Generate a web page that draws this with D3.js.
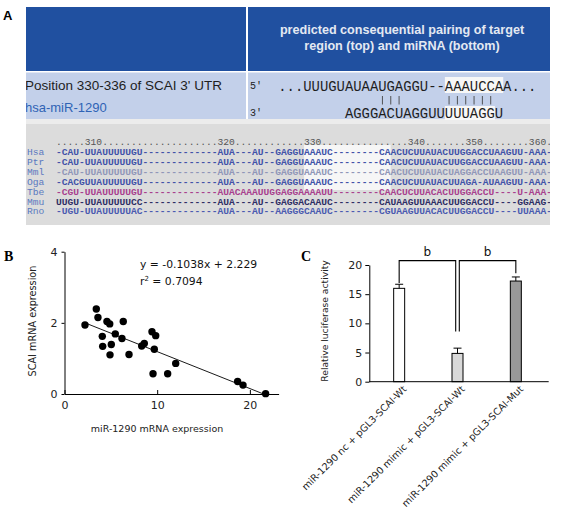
<!DOCTYPE html>
<html><head><meta charset="utf-8">
<script src="https://cdn.jsdelivr.net/npm/d3@7/dist/d3.min.js"></script>
<style>html,body{margin:0;padding:0;background:#fff}svg{display:block}</style>
</head><body>
<script>
// ---------- DATA ----------
// Panel A: pairing
const pairTitle = ["predicted consequential pairing of target", "region (top) and miRNA (bottom)"];
const pairLeftLabels = ["Position 330-336 of SCAI 3' UTR", "hsa-miR-1290"];
const pairTop = "...UUUGUAUAAUGAGGU--AAAUCCAA...";
const pairBottom = "AGGGACUAGGUUUUUAGGU";
const pairBottomStartCol = 8;
const pairPipeCols = [12,13,14,20,21,22,23,24,25];
const topSeedCols = [20, 26];      // highlighted columns (inclusive)
const bottomSeedCols = [20, 25];
// Panel A: alignment
const alignRuler = ".....310....................320............330...............340.......350........360.";
const alignSpecies = ["Hsa","Ptr","Mml","Oga","Tbe","Mmu","Rno"];
const alignSeqs = [
  "-CAU-UUAUUUUUGU-------------AUA---AU--GAGGUAAAUC--------CAACUCUUAUACUUGGACCUAAGUU-AAA-",
  "-CAU-UUAUUUUUGU-------------AUA---AU--GAGGUAAAUC--------CAACUCUUAUACUUGGACCUAAGUU-AAA-",
  "-CAU-UUAUUUUUGU-------------AUA---AU--GAGGUAAAUC--------CAACUCUUAUACUAGGACCUAAGUU-AAA-",
  "-CACGUUAUUUUUGU-------------AUA---AU--GAGGUAAAUC--------CAACUCUUAUACUUAGA-AUAAGUU-AAA-",
  "-CGU-UUAUUUUUGU-------------AUACAAAUUGGAGGAAAAUU--------CAACUCUUACACUUGGACCU----U-AAA-",
  "UUGU-UUAUUUUUCC-------------AUA---AU--GAGGACAAUC--------CAUAAGUUAAACUUGGACCU----GGAAG-",
  "-UGU-UUAUUUUUAC-------------AUA---AU--AAGGGCAAUC--------CGUAAGUUACACUUGGACCU----UUAAA-"
];
const siteCols = [43, 57];
// Panel B: scatter
const miR1290 = [2.21,3.43,3.61,4.08,4.12,4.58,4.88,4.91,5.05,5.48,6.34,6.20,6.96,8.33,8.61,9.44,9.84,9.69,9.55,11.13,12.0,18.68,19.26,21.7];
const scaiExpr = [1.94,2.39,2.15,1.62,1.34,2.04,1.97,1.10,1.39,1.69,2.04,1.56,1.11,1.35,1.42,1.75,1.64,1.26,0.57,0.57,0.86,0.35,0.25,0.01];
const fitSlope = -0.1038, fitIntercept = 2.229;
const fitXRange = [2.2, 21.5];
const scatterXTicks = [0,10,20];
const scatterYTicks = [0,2,4];
const eqText = "y = -0.1038x + 2.229";
const r2Value = "0.7094";
// Panel C: bars
const barCategories = ["miR-1290 nc + pGL3-SCAI-Wt","miR-1290 mimic + pGL3-SCAI-Wt","miR-1290 mimic + pGL3-SCAI-Mut"];
const barValues = [16.0, 4.85, 17.25];
const barErrors = [0.7, 0.9, 0.7];
const barYTicks = [0,5,10,15,20];
const sigLabel = "b";
const bracketTop = 20.75;
const bracketEnds = [[16.9, 8.6],[8.6, 18.6]]; // [left end, right end] values
const bracketPairs = [[0,1],[1,2]];

// ---------- STYLE ----------
const W = 562, H = 509;
const svg = d3.select("body").append("svg").attr("width", W).attr("height", H);
const sans = "'Liberation Sans', Arial, sans-serif";
const mono = "'Liberation Mono', 'Courier New', monospace";
const verd = "'DejaVu Sans', Verdana, sans-serif";
const serif = "'Liberation Serif', 'Times New Roman', serif";
const seqColors = ["#4152a8","#4152a8","#9096b8","#4152a8","#a8408e","#2e2e64","#4a5ab0"];
const barFills = ["#ffffff","#d9d9d9","#999999"];

// ---------- PANEL A ----------
svg.append("text").attr("x",3).attr("y",20).text("A")
  .attr("font-family",sans).attr("font-weight","bold").attr("font-size",13);
const defs = svg.append("defs");
defs.append("clipPath").attr("id","clipA").append("rect").attr("x",26).attr("y",0).attr("width",524).attr("height",230);
const gA = svg.append("g").attr("clip-path","url(#clipA)");
gA.append("rect").attr("x",26).attr("y",7).attr("width",524).attr("height",64).attr("fill","#2050a0");
gA.append("rect").attr("x",26).attr("y",72.5).attr("width",524).attr("height",46.5).attr("fill","#c3d0ea");
gA.append("rect").attr("x",26).attr("y",119).attr("width",524).attr("height",5).attr("fill","#ececec");
gA.append("rect").attr("x",26).attr("y",124).attr("width",524).attr("height",101).attr("fill","#dcdcdc");
gA.append("rect").attr("x",246).attr("y",7).attr("width",2).attr("height",112).attr("fill","#ffffff");
gA.selectAll("text.title").data(pairTitle).join("text").attr("class","title")
  .attr("x",402).attr("y",(d,i)=>34+i*16).attr("text-anchor","middle")
  .attr("font-family",sans).attr("font-weight","bold").attr("font-size",12.6).attr("fill","#e4e9f2").text(d=>d);
gA.append("text").attr("x",25).attr("y",90).text(pairLeftLabels[0])
  .attr("font-family",sans).attr("font-size",13.5).attr("fill","#1e1e1e");
gA.append("text").attr("x",25).attr("y",112).text(pairLeftLabels[1])
  .attr("font-family",sans).attr("font-size",13).attr("fill","#2f63b5");

const cw = 8.33, sx0 = 278.3, monoSize = cw/0.6;
const colX = c => sx0 + c*cw;
gA.append("rect").attr("x",colX(topSeedCols[0])).attr("y",77).attr("width",(topSeedCols[1]-topSeedCols[0]+1)*cw).attr("height",16).attr("fill","#f7f7f7");
gA.append("rect").attr("x",colX(bottomSeedCols[0])).attr("y",106).attr("width",(bottomSeedCols[1]-bottomSeedCols[0]+1)*cw).attr("height",14).attr("fill","#f7f7f7");
gA.append("text").attr("x",250).attr("y",89).text("5'").attr("font-family",mono).attr("font-size",10).attr("fill","#222");
gA.append("text").attr("x",250).attr("y",116).text("3'").attr("font-family",mono).attr("font-size",10).attr("fill","#222");
gA.append("text").attr("x",colX(0)).attr("y",91).text(pairTop).attr("font-family",mono).attr("font-size",monoSize).attr("fill","#1e1e1e");
gA.append("text").attr("x",colX(pairBottomStartCol)).attr("y",118).text(pairBottom).attr("font-family",mono).attr("font-size",monoSize).attr("fill","#1e1e1e");
gA.selectAll("line.pipe").data(pairPipeCols).join("line").attr("class","pipe")
  .attr("x1",c=>colX(c)+cw/2).attr("x2",c=>colX(c)+cw/2).attr("y1",96).attr("y2",104.5)
  .attr("stroke","#444").attr("stroke-width",0.9);

// alignment
const acw = 5.77, ax0 = 56, aSize = acw/0.6;
const rowY = i => 155 + i*9.9;
gA.append("rect").attr("x",ax0+siteCols[0]*acw).attr("y",145).attr("width",(siteCols[1]-siteCols[0]+1)*acw).attr("height",45).attr("fill","#f6f6f6");
gA.append("text").attr("x",ax0).attr("y",145).text(alignRuler).attr("font-family",mono).attr("font-size",aSize).attr("fill","#555");
gA.selectAll("text.sp").data(alignSpecies).join("text").attr("class","sp")
  .attr("x",27).attr("y",(d,i)=>rowY(i)).text(d=>d).attr("font-family",mono).attr("font-size",aSize).attr("fill","#5a78c0");
gA.selectAll("text.seq").data(alignSeqs).join("text").attr("class","seq")
  .attr("x",ax0).attr("y",(d,i)=>rowY(i)).text(d=>d).attr("font-family",mono).attr("font-size",aSize)
  .attr("font-weight","bold").attr("fill",(d,i)=>seqColors[i]);

// ---------- PANEL B ----------
svg.append("text").attr("x",4).attr("y",261).text("B").attr("font-family",serif).attr("font-weight","bold").attr("font-size",14);
const xB = d3.scaleLinear().domain([0,23.1]).range([64.5,278.6]);
const yB = d3.scaleLinear().domain([0,4]).range([394,251.7]);
const gB = svg.append("g");
const axBx = gB.append("g").attr("transform","translate(0,394)")
  .call(d3.axisBottom(xB).tickValues(scatterXTicks).tickFormat(d3.format("d")).tickSize(-4).tickSizeOuter(0).tickPadding(7));
const axBy = gB.append("g").attr("transform","translate(64.5,0)")
  .call(d3.axisLeft(yB).tickValues(scatterYTicks).tickFormat(d3.format("d")).tickSize(3).tickSizeOuter(0).tickPadding(4));
[axBx,axBy].forEach(a=>{a.selectAll("text").attr("font-family",verd).attr("font-size",11).attr("fill","#222");
  a.selectAll("line,path").attr("stroke","#000");});
gB.append("line").attr("x1",xB(fitXRange[0])).attr("y1",yB(fitSlope*fitXRange[0]+fitIntercept))
  .attr("x2",xB(fitXRange[1])).attr("y2",yB(fitSlope*fitXRange[1]+fitIntercept)).attr("stroke","#000").attr("stroke-width",0.9);
gB.selectAll("circle").data(miR1290).join("circle")
  .attr("cx",d=>xB(d)).attr("cy",(d,i)=>yB(scaiExpr[i])).attr("r",3.7).attr("fill","#000");
gB.append("text").attr("x",140).attr("y",268).text(eqText).attr("font-family",verd).attr("font-size",10.8).attr("fill","#111");
const r2 = gB.append("text").attr("x",140).attr("y",285).attr("font-family",verd).attr("font-size",10.8).attr("fill","#111");
r2.append("tspan").text("r");
r2.append("tspan").attr("dy",-4).attr("font-size",7).text("2");
r2.append("tspan").attr("dy",4).text(" = " + r2Value);
gB.append("text").attr("transform","translate(36,321) rotate(-90)").attr("text-anchor","middle")
  .text("SCAI mRNA expression").attr("font-family",verd).attr("font-size",9.7).attr("fill","#222");
gB.append("text").attr("x",157).attr("y",432).attr("text-anchor","middle")
  .text("miR-1290 mRNA expression").attr("font-family",verd).attr("font-size",9.5).attr("fill","#222");

// ---------- PANEL C ----------
svg.append("text").attr("x",301).attr("y",261).text("C").attr("font-family",serif).attr("font-weight","bold").attr("font-size",14);
const xC = d3.scaleBand().domain(barCategories).range([370,545]);
const yC = d3.scaleLinear().domain([0,20]).range([381.7,265]);
const gC = svg.append("g");
const bw = 11;
const cx = d => xC(d) + xC.bandwidth()/2;
gC.selectAll("rect.bar").data(barCategories).join("rect").attr("class","bar")
  .attr("x",d=>cx(d)-bw/2).attr("y",(d,i)=>yC(barValues[i])).attr("width",bw)
  .attr("height",(d,i)=>yC(0)-yC(barValues[i])).attr("fill",(d,i)=>barFills[i]).attr("stroke","#000").attr("stroke-width",1);
gC.selectAll("line.err").data(barCategories).join("line").attr("class","err")
  .attr("x1",d=>cx(d)).attr("x2",d=>cx(d)).attr("y1",(d,i)=>yC(barValues[i]))
  .attr("y2",(d,i)=>yC(barValues[i]+barErrors[i])).attr("stroke","#000");
gC.selectAll("line.cap").data(barCategories).join("line").attr("class","cap")
  .attr("x1",d=>cx(d)-4).attr("x2",d=>cx(d)+4).attr("y1",(d,i)=>yC(barValues[i]+barErrors[i]))
  .attr("y2",(d,i)=>yC(barValues[i]+barErrors[i])).attr("stroke","#000");
const axCy = gC.append("g").attr("transform","translate(369.3,0)")
  .call(d3.axisLeft(yC).tickValues(barYTicks).tickSize(4).tickSizeOuter(0).tickPadding(3));
axCy.selectAll("text").attr("font-family",verd).attr("font-size",11).attr("fill","#222");
axCy.selectAll("line,path").attr("stroke","#000");
gC.append("line").attr("x1",369.3).attr("x2",548.7).attr("y1",yC(0)).attr("y2",yC(0)).attr("stroke","#000");
gC.selectAll("text.cat").data(barCategories).join("text").attr("class","cat")
  .attr("transform",d=>`translate(${cx(d)+8},${yC(0)+8}) rotate(-45)`).attr("text-anchor","end")
  .text(d=>d).attr("font-family",verd).attr("font-size",9.7).attr("fill","#222");
// brackets
bracketPairs.forEach((p,k)=>{
  const off = 1.8;
  const x1 = cx(barCategories[p[0]]) + (p[0]===1 ? off : 0);
  const x2 = cx(barCategories[p[1]]) - (p[1]===1 ? off : 0);
  const yt = yC(bracketTop);
  gC.append("path").attr("d",`M${x1},${yC(bracketEnds[k][0])}V${yt}H${x2}V${yC(bracketEnds[k][1])}`)
    .attr("fill","none").attr("stroke","#000").attr("stroke-width",1.1);
  gC.append("text").attr("x",(x1+x2)/2).attr("y",256).attr("text-anchor","middle")
    .text(sigLabel).attr("font-family",verd).attr("font-size",12).attr("fill","#111");
});
gC.append("text").attr("transform","translate(328,321) rotate(-90)").attr("text-anchor","middle")
  .text("Relative luciferase activity").attr("font-family",verd).attr("font-size",9.2).attr("fill","#222");
</script>
</body></html>
